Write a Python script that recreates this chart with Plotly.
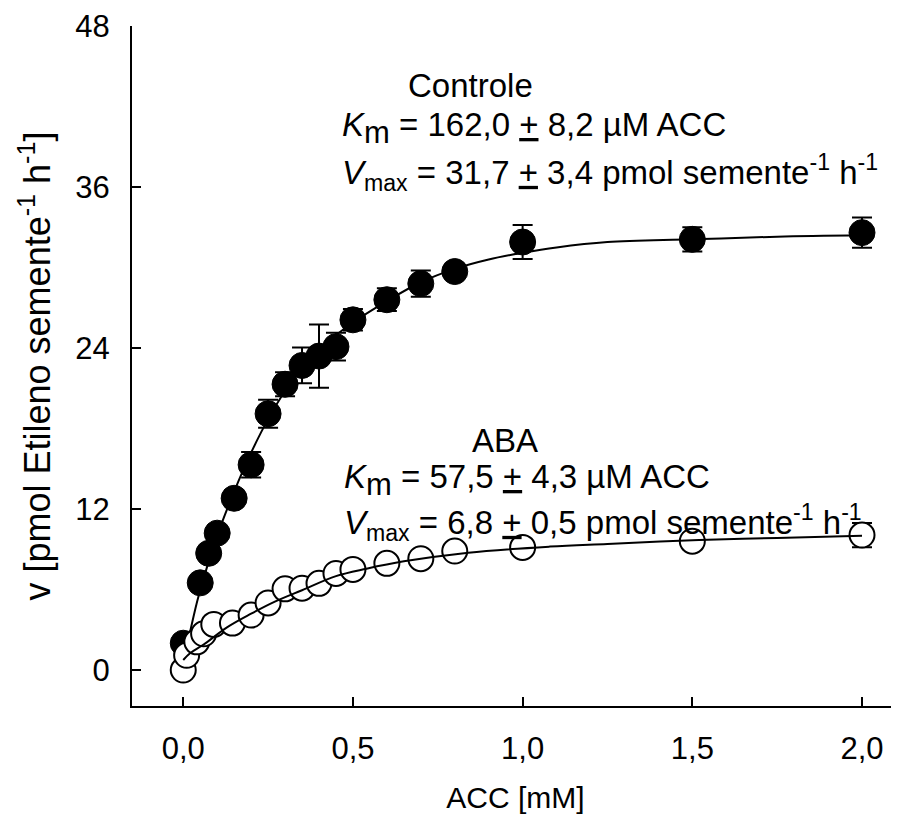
import plotly.graph_objects as go

# ---- data ----
ctrl_x = [0, 0.05, 0.075, 0.1, 0.15, 0.2, 0.25, 0.3, 0.35, 0.4, 0.45, 0.5, 0.6, 0.7, 0.8, 1.0, 1.5, 2.0]
ctrl_y = [2.0, 6.5, 8.7, 10.2, 12.8, 15.3, 19.1, 21.3, 22.7, 23.4, 24.1, 26.1, 27.6, 28.8, 29.7, 31.9, 32.1, 32.6]
ctrl_err = [0.3, 0.4, 0.4, 0.5, 0.6, 0.95, 1.05, 0.9, 1.33, 2.36, 1.03, 0.8, 0.85, 0.97, 0.5, 1.27, 0.9, 1.13]

aba_x = [0, 0.01, 0.04, 0.06, 0.09, 0.145, 0.2, 0.25, 0.3, 0.35, 0.4, 0.45, 0.5, 0.6, 0.7, 0.8, 1.0, 1.5, 2.0]
aba_y = [0.0, 1.1, 2.1, 2.7, 3.4, 3.5, 4.1, 5.0, 6.05, 6.1, 6.46, 7.2, 7.5, 7.95, 8.3, 8.87, 9.14, 9.6, 10.06]
aba_err = [0.2, 0.2, 0.3, 0.3, 0.3, 0.3, 0.3, 0.3, 0.3, 0.3, 0.3, 0.3, 0.3, 0.3, 0.3, 0.3, 0.4, 0.6, 0.9]

ctrl_fit_x = [0, 0.016, 0.045, 0.1, 0.15, 0.2, 0.25, 0.3, 0.35, 0.4, 0.5, 0.6, 0.7, 0.8, 0.9, 1.0, 1.1, 1.25, 1.5, 1.75, 2.0]
ctrl_fit_y = [0.8, 2.4, 5.5, 10.0, 13.3, 16.2, 18.7, 20.8, 22.5, 23.9, 25.9, 27.5, 28.9, 29.9, 30.6, 31.1, 31.5, 31.9, 32.1, 32.3, 32.4]

aba_fit_x = [0, 0.02, 0.06, 0.13, 0.2, 0.27, 0.35, 0.45, 0.54, 0.65, 0.84, 1.08, 1.25, 1.52, 1.75, 2.0]
aba_fit_y = [0.75, 1.25, 1.9, 3.2, 4.2, 5.1, 5.95, 7.0, 7.55, 8.1, 8.75, 9.2, 9.4, 9.7, 9.85, 10.0]

x_ticks = [0.0, 0.5, 1.0, 1.5, 2.0]
x_tick_labels = ["0,0", "0,5", "1,0", "1,5", "2,0"]
y_ticks = [0, 12, 24, 36, 48]
y_tick_labels = ["0", "12", "24", "36", "48"]

FONT = "Liberation Sans, Arial, sans-serif"
TICK_FS = 31
ANN_FS = 33

fig = go.Figure()

fig.add_trace(go.Scatter(
    x=ctrl_x, y=ctrl_y, mode="markers", name="Controle",
    marker=dict(size=26, color="black", line=dict(color="black", width=1)),
    error_y=dict(type="data", array=ctrl_err, visible=True, color="black", thickness=2, width=10),
))
fig.add_trace(go.Scatter(
    x=ctrl_fit_x, y=ctrl_fit_y, mode="lines", name="Controle ajuste",
    line=dict(color="black", width=2, shape="spline", smoothing=1.0),
))
fig.add_trace(go.Scatter(
    x=aba_x, y=aba_y, mode="markers", name="ABA",
    marker=dict(size=25, color="white", line=dict(color="black", width=2)),
    error_y=dict(type="data", array=aba_err, visible=True, color="black", thickness=2, width=10),
))
fig.add_trace(go.Scatter(
    x=aba_fit_x, y=aba_fit_y, mode="lines", name="ABA ajuste",
    line=dict(color="black", width=2, shape="spline", smoothing=1.0),
))

ann_font = dict(family=FONT, size=ANN_FS, color="black")
km = "<i>K</i><sub><span style='font-size:31px'>m</span></sub>"
vmax = "<i>V</i><sub>max</sub>"
annotations = [
    dict(x=0.845, y=43.6, text="Controle", xanchor="center"),
    dict(x=0.462, y=40.4, text=km + " = 162,0 <u>+</u> 8,2 µM ACC", xanchor="left"),
    dict(x=0.462, y=37.1, text=vmax + " = 31,7 <u>+</u> 3,4 pmol semente<sup>-1</sup> h<sup>-1</sup>", xanchor="left"),
    dict(x=0.948, y=17.1, text="ABA", xanchor="center"),
    dict(x=0.468, y=14.2, text=km + " = 57,5 <u>+</u> 4,3 µM ACC", xanchor="left"),
    dict(x=0.468, y=11.0, text=vmax + " = 6,8 <u>+</u> 0,5 pmol semente<sup>-1</sup> h<sup>-1</sup>", xanchor="left"),
]
for a in annotations:
    a.update(xref="x", yref="y", yanchor="middle", showarrow=False, font=ann_font)

fig.update_layout(
    width=891, height=810,
    margin=dict(l=124, r=0, t=18, b=112),
    paper_bgcolor="white", plot_bgcolor="white",
    showlegend=False,
    font=dict(family=FONT, size=TICK_FS, color="black"),
    annotations=annotations,
    xaxis=dict(
        range=[-0.151, 2.109], tickvals=x_ticks, ticktext=x_tick_labels,
        ticks="inside", ticklen=9, tickwidth=1.5, tickcolor="black",
        showline=True, linecolor="black", linewidth=2, mirror=False,
        showgrid=False, zeroline=False, ticklabelstandoff=14,
        tickfont=dict(family=FONT, size=TICK_FS, color="black"),
        title=dict(text="ACC [mM]", standoff=22, font=dict(family=FONT, size=30, color="black")),
        automargin=False,
    ),
    yaxis=dict(
        range=[-2.68, 48], tickvals=y_ticks, ticktext=y_tick_labels,
        ticks="inside", ticklen=9, tickwidth=1.5, tickcolor="black",
        showline=True, linecolor="black", linewidth=2, mirror=False,
        showgrid=False, zeroline=False, ticklabelstandoff=14,
        tickfont=dict(family=FONT, size=TICK_FS, color="black"),
        title=dict(text="v [pmol Etileno semente<sup>-1</sup> h<sup>-1</sup>]", standoff=14,
                   font=dict(family=FONT, size=36, color="black")),
        automargin=False,
    ),
)

fig.write_html("out.html")
